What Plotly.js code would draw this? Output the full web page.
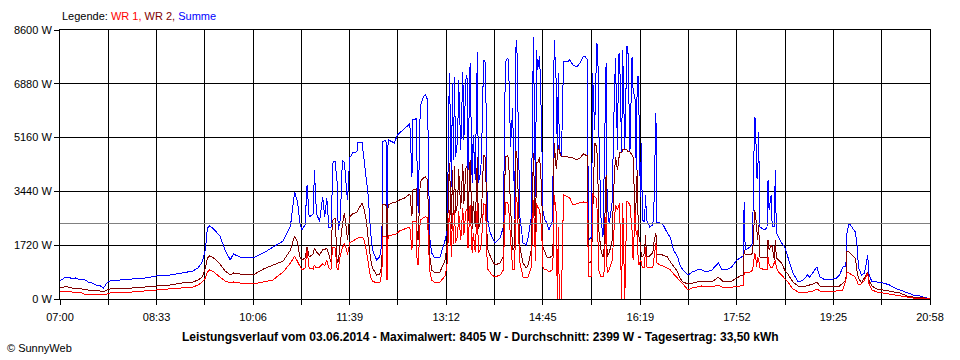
<!DOCTYPE html>
<html><head><meta charset="utf-8">
<script src="https://cdn.plot.ly/plotly-3.0.1.min.js"></script>
<style>body{margin:0;background:#fff}#chart{width:960px;height:360px}
#chart .scatterlayer path.js-line{shape-rendering:crispEdges}
#chart .gridlayer path, #chart .xlines-above, #chart .ylines-above{shape-rendering:crispEdges}
</style>
</head><body><div id="chart"></div>
<script>
const times = ["07:00","07:04","07:08","07:12","07:15","07:19","07:23","07:27","07:31","07:35","07:39","07:42","07:45","07:48","07:58","08:10","08:22","08:33","08:46","08:58","09:08","09:13","09:17","09:20","09:22","09:24","09:28","09:34","09:39","09:44","09:47","09:53","10:06","10:16","10:25","10:35","10:42","10:46","10:49","10:51","10:53","10:56","10:58","11:00","11:04","11:05","11:07","11:10","11:13","11:15","11:17","11:19","11:21","11:22","11:23","11:25","11:27","11:28","11:30","11:32","11:34","11:36","11:37","11:39","11:42","11:46","11:47","11:51","11:53","11:55","11:57","11:59","12:01","12:05","12:08","12:10","12:11","12:14","12:15","12:16","12:20","12:22","12:25","12:27","12:32","12:37","12:39","12:40","12:43","12:44","12:45","12:47","12:50","12:52","12:54","12:55","12:56","12:58","13:01","13:06","13:11","13:13","13:15","13:16","13:17","13:18","13:19","13:20","13:21","13:23","13:24","13:26","13:28","13:29","13:31","13:32","13:33","13:35","13:37","13:38","13:40","13:42","13:43","13:45","13:46","13:48","13:50","13:51","13:52","13:54","13:56","13:59","14:04","14:07","14:09","14:11","14:12","14:14","14:16","14:18","14:19","14:20","14:22","14:23","14:26","14:29","14:31","14:34","14:36","14:38","14:39","14:40","14:42","14:44","14:45","14:47","14:49","14:51","14:54","14:55","14:56","14:58","14:59","15:00","15:01","15:03","15:05","15:09","15:11","15:14","15:18","15:21","15:24","15:26","15:28","15:29","15:31","15:32","15:33","15:35","15:37","15:38","15:39","15:41","15:43","15:44","15:46","15:47","15:49","15:52","15:53","15:55","15:57","15:58","15:59","16:01","16:02","16:04","16:06","16:07","16:09","16:11","16:12","16:14","16:15","16:16","16:17","16:18","16:19","16:20","16:21","16:23","16:24","16:25","16:28","16:31","16:32","16:34","16:35","16:38","16:41","16:45","16:48","16:51","16:55","16:57","17:00","17:05","17:09","17:14","17:18","17:23","17:28","17:34","17:38","17:42","17:47","17:52","17:55","17:58","17:59","18:00","18:05","18:07","18:08","18:09","18:10","18:11","18:12","18:13","18:14","18:19","18:21","18:22","18:23","18:25","18:26","18:28","18:29","18:30","18:32","18:35","18:38","18:41","18:46","18:51","18:56","19:00","19:02","19:05","19:09","19:12","19:17","19:22","19:28","19:31","19:34","19:37","19:38","19:40","19:43","19:46","19:48","19:49","19:52","19:55","19:58","19:59","20:02","20:07","20:13","20:19","20:24","20:29","20:36","20:42","20:48","20:55","20:58"];

const summe = [576,672,704,640,672,608,640,544,512,448,416,352,512,576,608,640,672,736,768,832,896,992,1184,1568,2272,2336,2240,2016,1568,1248,1440,1344,1312,1472,1664,1856,2336,3424,3072,2432,2208,2368,3648,2624,2720,4128,2752,2464,3264,2624,3232,2272,2272,3488,4384,4384,3712,2208,2528,4448,4352,3488,3168,4512,4672,4704,4992,4992,4352,3712,3264,2208,1568,1248,1344,1792,5024,5088,2208,5088,5024,4992,5248,5312,5472,5600,3904,5728,5760,3584,2752,6144,6464,6528,6368,4352,1984,1472,1312,1344,1888,2208,7232,5728,3584,6912,4448,7104,4544,5088,7008,4768,7264,5088,7008,7168,4128,7552,3712,5248,3808,7904,3712,4032,4544,7648,7552,3808,2528,2144,1984,1792,1952,2304,7552,7712,7648,4864,6112,2560,7968,8288,4352,2624,1792,1728,1984,2624,8384,3264,7968,7328,7776,5408,2848,2528,2432,2208,2464,4128,8288,6912,4672,7232,4768,4544,7584,7584,7648,7488,7424,7552,7744,7744,7648,1888,1952,1984,7232,5408,8192,8064,5408,2624,1984,4128,7552,3072,2400,3136,5152,7712,4768,7808,7872,4672,7968,4768,8064,8064,4704,7744,6688,6368,4128,7040,7136,5408,3264,4992,2528,2464,3328,2528,2304,2368,2848,5952,2432,2432,2368,2112,1952,1568,1344,1088,928,768,864,928,928,864,928,1152,928,928,1024,1248,1312,1376,3104,1568,1664,1792,3712,5824,5728,3904,3840,5344,2304,2208,2304,3808,2848,3328,2304,2304,4128,2112,1984,1792,1664,1344,832,544,608,768,704,832,1024,704,608,608,672,768,1024,1056,2112,2432,2272,2144,1664,1024,768,832,1408,832,544,544,512,448,352,288,192,128,96,32,0];

const wr2 = [352,384,384,352,320,352,288,288,256,288,256,224,288,320,320,352,384,416,448,512,544,608,704,992,1312,1376,1312,1120,896,768,832,800,768,960,1088,1216,1568,2016,1792,1344,1248,1312,1664,1344,1440,1632,1504,1408,1568,1568,1632,1376,1184,2208,2528,2592,1152,1184,1792,2368,2752,2208,1888,2624,2720,2784,2848,3072,2848,2528,1888,1312,992,768,800,1056,3008,3040,928,3008,3072,3072,3136,3168,3232,3360,2656,3488,3520,1984,1888,3744,3872,3904,3808,2528,1408,928,832,864,1248,1792,4352,3456,2240,4128,2688,4256,2752,3072,4160,2880,4320,3040,4192,4256,2496,4448,2240,3136,2304,4544,2240,2432,2752,4608,4512,2304,1600,1408,1248,1088,1152,1376,4544,4576,4512,2944,1568,1664,4704,4704,2720,1664,1152,992,1088,1568,4672,2048,4352,4352,4544,3488,1664,1472,1344,1312,1376,1792,4992,4160,4672,4928,4704,4544,4544,4544,4512,4512,4448,4512,4640,4608,4576,1152,1152,1248,2624,4992,4864,4128,2208,1568,1344,1568,3968,1344,1472,1888,3264,4544,4128,4544,4672,4672,4768,4768,4768,4704,4704,4608,4544,2624,3168,4128,2208,1888,1792,1344,1344,1472,2048,1344,1376,1472,1792,2112,1408,1440,1408,1344,1184,1056,864,672,544,480,512,544,544,544,544,704,576,544,576,672,736,768,1568,1408,1408,1472,1888,2848,2688,2304,1888,2368,1344,1312,1344,1888,1568,1728,1664,1248,1888,1312,1248,1152,928,800,544,416,384,416,448,480,544,416,384,384,384,416,512,608,1504,1504,1408,1312,832,672,512,704,864,608,416,320,288,256,224,192,96,64,64,32,0];

const wr1 = [224,224,256,224,192,224,160,160,128,160,128,128,160,192,192,224,256,288,320,352,384,448,544,672,864,928,864,704,576,512,544,512,480,544,608,864,1152,1376,1184,1024,928,992,1568,992,960,1088,992,1024,1120,1056,1248,992,928,1408,1664,1632,928,928,1408,1632,1792,1568,1408,1792,1856,1952,1952,1984,1888,1568,1088,704,576,512,512,832,1984,2016,608,2016,2048,2048,2112,2176,2240,2304,1568,2464,2464,1152,1088,2528,2592,2624,2592,1344,928,608,512,544,736,1152,2848,2272,1344,2752,1760,2848,1792,2016,2816,1888,2912,2048,2816,2880,1632,3008,1472,2112,1504,3072,1472,1600,1792,3040,3008,1504,960,864,768,704,768,928,3072,3072,3008,1920,928,928,3232,3232,1632,1152,704,672,704,1024,3168,1216,3072,2944,2848,2208,1024,928,928,864,928,1344,3328,2752,0,2304,0,0,3328,3264,3232,3008,3040,3072,3104,3072,3072,704,704,704,3392,3264,3200,1600,928,704,704,864,2688,832,928,1248,1888,3008,2848,2944,3072,0,3072,0,3104,3104,3008,2208,1248,2848,2048,2208,1152,1088,1248,1184,992,1024,1664,1024,992,992,1312,1792,1152,1088,1056,992,928,800,672,576,480,288,352,384,416,384,384,448,384,352,384,416,416,416,832,832,864,928,1088,1472,1408,1024,1344,1248,992,928,928,1344,1088,992,992,1152,1248,992,864,768,672,544,320,224,192,224,256,256,320,256,224,224,256,256,288,608,832,832,768,704,544,448,480,608,832,512,288,224,192,160,128,96,64,32,32,0,0];

const seriesNames = ["WR 1", "WR 2", "Summe"];
const averageWatt = 2399;
const yTickValues = [0, 1720, 3440, 5160, 6880, 8600];
const yTickLabels = ["0 W", "1720 W", "3440 W", "5160 W", "6880 W", "8600 W"];
const xTickLabels = ["07:00","08:33","10:06","11:39","13:12","14:45","16:19","17:52","19:25","20:58"];
const chartTitle = "Leistungsverlauf vom 03.06.2014 - Maximalwert: 8405 W - Durchschnitt: 2399 W - Tagesertrag: 33,50 kWh";
const creditText = "© SunnyWeb";

const toMin = s => { const p = s.split(":"); return (+p[0]) * 60 + (+p[1]); };
const xs = times.map(toMin);
const labelMins = xTickLabels.map(toMin);
const tickVals = [], tickText = [];
labelMins.forEach((m, i) => {
  tickVals.push(m); tickText.push(xTickLabels[i]);
  if (i < labelMins.length - 1) { tickVals.push((m + labelMins[i + 1]) / 2); tickText.push(""); }
});
const xStart = labelMins[0], xEnd = labelMins[labelMins.length - 1];

const FONT = "Arial, 'Liberation Sans', sans-serif";
const colors = { wr1: "#ff0000", wr2: "#800000", sum: "#0000ff" };

const traces = [
  { x: xs, y: summe, name: seriesNames[2], type: "scatter", mode: "lines", line: { color: colors.sum, width: 1 } },
  { x: xs, y: wr2, name: seriesNames[1], type: "scatter", mode: "lines", line: { color: colors.wr2, width: 1 } },
  { x: xs, y: wr1, name: seriesNames[0], type: "scatter", mode: "lines", line: { color: colors.wr1, width: 1 } },
  { x: [xStart, xEnd], y: [averageWatt, averageWatt], type: "scatter", mode: "lines", line: { color: "#808080", width: 1 }, hoverinfo: "skip" }
];

const layout = {
  width: 960, height: 360,
  margin: { l: 60, r: 30, t: 30, b: 61 },
  paper_bgcolor: "#ffffff", plot_bgcolor: "#ffffff",
  showlegend: false,
  font: { family: FONT, size: 11, color: "#000" },
  xaxis: {
    range: [xStart, xEnd], tickmode: "array", tickvals: tickVals, ticktext: tickText,
    showgrid: true, gridcolor: "#000", gridwidth: 1, zeroline: false,
    showline: true, linecolor: "#000", linewidth: 1, mirror: true,
    ticks: "outside", ticklen: 5, tickcolor: "#000", ticklabelstandoff: 3,
    tickfont: { family: FONT, size: 11, color: "#000" }
  },
  yaxis: {
    range: [0, 8600], tickmode: "array", tickvals: yTickValues, ticktext: yTickLabels,
    showgrid: true, gridcolor: "#000", gridwidth: 1, zeroline: false,
    showline: true, linecolor: "#000", linewidth: 1, mirror: true,
    ticks: "outside", ticklen: 5, tickcolor: "#000", tickfont: { family: FONT, size: 11, color: "#000" }
  },
  annotations: [
    { xref: "paper", yref: "paper", x: 0, y: 1.052, xanchor: "left", yanchor: "middle", showarrow: false,
      text: 'Legende: <span style="color:' + colors.wr1 + '">' + seriesNames[0] + ',</span> <span style="color:' + colors.wr2 + '">' + seriesNames[1] + ',</span> <span style="color:' + colors.sum + '">' + seriesNames[2] + '</span>',
      font: { family: FONT, size: 11, color: "#000" } },
    { xref: "paper", yref: "paper", x: 0.4828, y: -0.141, xanchor: "center", yanchor: "middle", showarrow: false,
      text: "<b>" + chartTitle + "</b>", font: { family: FONT, size: 12, color: "#000" } },
    { xref: "paper", yref: "paper", x: -0.0632, y: -0.182, xanchor: "left", yanchor: "middle", showarrow: false,
      text: creditText, font: { family: FONT, size: 11, color: "#000" } }
  ]
};

Plotly.newPlot("chart", traces, layout, { displayModeBar: false, staticPlot: true });
</script>
</body></html>
